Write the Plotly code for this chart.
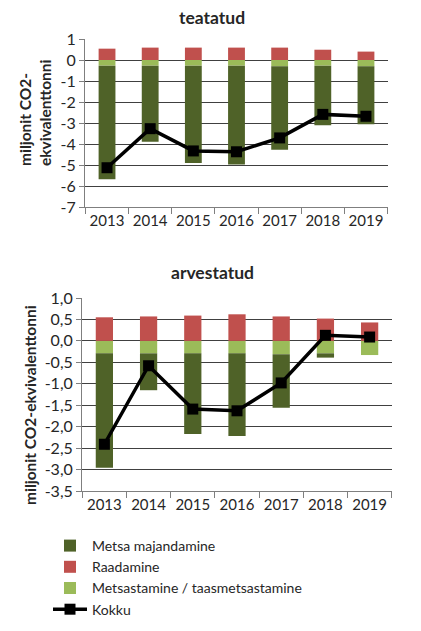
import plotly.graph_objects as go

years = ["2013", "2014", "2015", "2016", "2017", "2018", "2019"]

# teatatud (reported)
rep_majandamine = [-5.41, -3.62, -4.63, -4.71, -3.97, -2.84, -2.76]
rep_raadamine = [0.54, 0.59, 0.59, 0.59, 0.59, 0.49, 0.40]
rep_metsastamine = [-0.27, -0.27, -0.27, -0.27, -0.30, -0.27, -0.30]
rep_kokku = [-5.13, -3.27, -4.33, -4.37, -3.71, -2.59, -2.68]

# arvestatud (accounted)
acc_majandamine = [-2.67, -0.86, -1.88, -1.93, -1.25, -0.10, 0.0]
acc_raadamine = [0.55, 0.57, 0.59, 0.62, 0.57, 0.52, 0.43]
acc_metsastamine = [-0.29, -0.29, -0.29, -0.29, -0.31, -0.29, -0.33]
acc_kokku = [-2.41, -0.58, -1.59, -1.63, -0.98, 0.13, 0.09]

top_ticks = [1, 0, -1, -2, -3, -4, -5, -6, -7]
top_ticktext = ["1", "0", "-1", "-2", "-3", "-4", "-5", "-6", "-7"]
bot_ticks = [1.0, 0.5, 0.0, -0.5, -1.0, -1.5, -2.0, -2.5, -3.0, -3.5]
bot_ticktext = ["1,0", "0,5", "0,0", "-0,5", "-1,0", "-1,5", "-2,0", "-2,5", "-3,0", "-3,5"]

names = ["Metsa majandamine", "Raadamine", "Metsastamine / taasmetsastamine", "Kokku"]
C_DARK = "#4f6228"
C_RED = "#c0504d"
C_LIGHT = "#9bbb59"

FONT = "Lato, Carlito, Calibri, sans-serif"
TXT = "#262626"

fig = go.Figure()

def add_set(maj, raa, met, kok, xa, ya, show):
    fig.add_trace(go.Bar(x=years, y=met, name=names[2], marker_color=C_LIGHT,
                         xaxis=xa, yaxis=ya, legendgroup="met", showlegend=show,
                         legendrank=3))
    fig.add_trace(go.Bar(x=years, y=maj, name=names[0], marker_color=C_DARK,
                         xaxis=xa, yaxis=ya, legendgroup="maj", showlegend=show,
                         legendrank=1))
    fig.add_trace(go.Bar(x=years, y=raa, name=names[1], marker_color=C_RED,
                         xaxis=xa, yaxis=ya, legendgroup="raa", showlegend=show,
                         legendrank=2))
    fig.add_trace(go.Scatter(x=years, y=kok, name=names[3], mode="lines+markers",
                             line=dict(color="black", width=3.5),
                             marker=dict(symbol="square", size=11, color="black"),
                             xaxis=xa, yaxis=ya, legendgroup="kok", showlegend=show,
                             legendrank=4))

add_set(rep_majandamine, rep_raadamine, rep_metsastamine, rep_kokku, "x", "y", True)
add_set(acc_majandamine, acc_raadamine, acc_metsastamine, acc_kokku, "x2", "y2", False)

H = 631.0
W = 421.0

xcommon = dict(type="category", tickson="boundaries", ticks="outside", ticklen=6,
               tickcolor="#7f7f7f", showline=True, linecolor="#7f7f7f", linewidth=1,
               showgrid=False, automargin=False, tickangle=0,
               tickfont=dict(family=FONT, size=15, color=TXT))
ycommon = dict(ticks="outside", ticklen=5, tickcolor="#7f7f7f", showline=True,
               linecolor="#7f7f7f", linewidth=1, showgrid=True, gridcolor="#404040",
               gridwidth=1, zeroline=False, automargin=False,
               tickfont=dict(family=FONT, size=16, color=TXT))

fig.update_layout(
    template="none",
    width=421, height=631,
    margin=dict(l=0, r=0, t=0, b=0, autoexpand=False),
    paper_bgcolor="white", plot_bgcolor="white",
    barmode="relative", bargap=0.61,
    showlegend=True,
    legend=dict(x=48 / W, y=1 - 530 / H, xanchor="left", yanchor="top",
                orientation="v", font=dict(family=FONT, size=14, color=TXT),
                tracegroupgap=0, itemwidth=34, bgcolor="rgba(0,0,0,0)"),
    xaxis=dict(domain=[85 / W, 388 / W], anchor="y", **xcommon),
    yaxis=dict(domain=[1 - 207 / H, 1 - 39 / H], anchor="x", range=[-7, 1],
               tickvals=top_ticks, ticktext=top_ticktext, **ycommon),
    xaxis2=dict(domain=[82 / W, 392 / W], anchor="y2", **xcommon),
    yaxis2=dict(domain=[1 - 491 / H, 1 - 298 / H], anchor="x2", range=[-3.5, 1.0],
                tickvals=bot_ticks, ticktext=bot_ticktext, **ycommon),
    annotations=[
        dict(text="<b>teatatud</b>", x=212 / W, y=1 - 18 / H, xref="paper", yref="paper",
             xanchor="center", yanchor="middle",
             showarrow=False, font=dict(family=FONT, size=17.5, color=TXT)),
        dict(text="<b>arvestatud</b>", x=212 / W, y=1 - 272 / H, xref="paper", yref="paper",
             xanchor="center", yanchor="middle",
             showarrow=False, font=dict(family=FONT, size=17.5, color=TXT)),
        dict(text="<b>miljonit CO2-<br>ekvivalenttonni</b>", x=35 / W, y=1 - 113 / H,
             xref="paper", yref="paper", showarrow=False, textangle=-90, align="left",
             xanchor="center", yanchor="middle",
             font=dict(family=FONT, size=15.5, color=TXT)),
        dict(text="<b>miljonit CO2-ekvivalenttonni</b>", x=30 / W, y=1 - 405 / H,
             xref="paper", yref="paper", showarrow=False, textangle=-90,
             xanchor="center", yanchor="middle",
             font=dict(family=FONT, size=15.5, color=TXT)),
    ],
)

fig.write_html("out.html", config={"displayModeBar": False},
               post_script="document.body.style.margin='0';")
